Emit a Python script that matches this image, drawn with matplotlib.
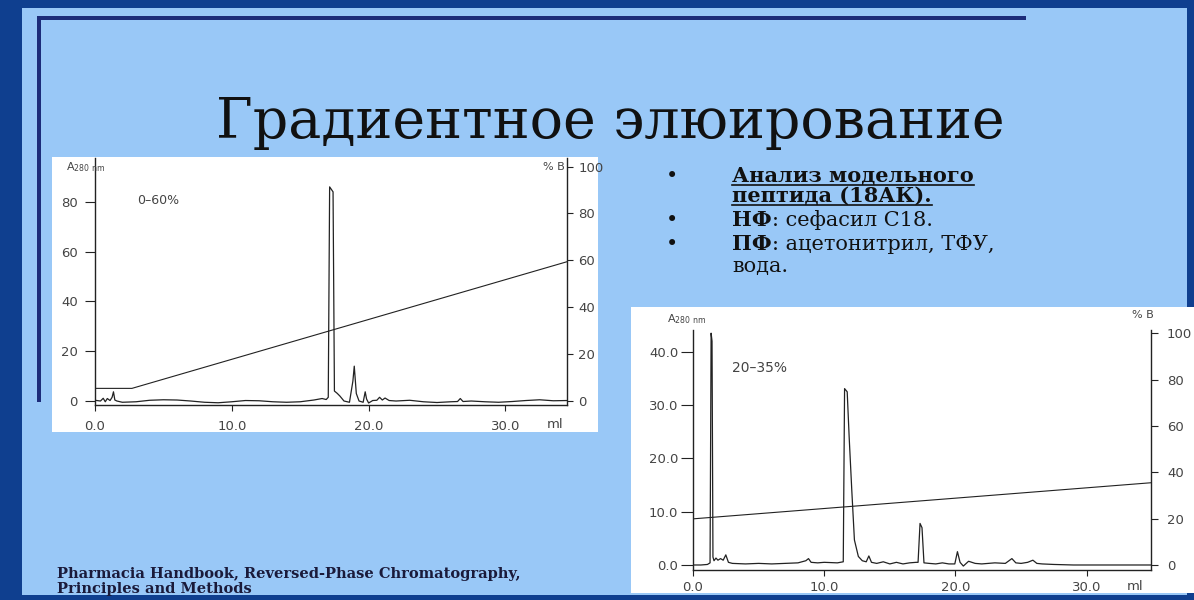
import matplotlib
matplotlib.use("Agg")
import matplotlib.pyplot as plt
from matplotlib.lines import Line2D
from matplotlib.patches import Rectangle

W, H = 1194, 600

# slide text
title = "Градиентное элюирование"
bullet_lines = ["Анализ модельного", "пептида (18АК)."]
nf_bold, nf_rest = "НФ", ": сефасил С18."
pf_bold, pf_rest = "ПФ", ": ацетонитрил, ТФУ,"
pf_cont = "вода."
source_lines = ["Pharmacia Handbook, Reversed-Phase Chromatography,",
                "Principles and Methods"]

# chromatogram 1 (0-60 %), volume in ml, absorbance A280
x1 = [0.0, 0.4, 0.6, 0.75, 0.9, 1.1, 1.25, 1.35, 1.45, 1.6, 2.0, 3.0, 4.0, 5.0,
      6.0, 7.0, 8.0, 9.0, 10.0, 11.0, 12.0, 13.0, 14.0, 15.0, 16.0, 16.6, 16.9,
      17.05, 17.15, 17.4, 17.5, 17.7, 17.9, 18.2, 18.6, 18.85, 18.95, 19.1, 19.3,
      19.6, 19.75, 19.85, 20.0, 20.3, 20.6, 20.8, 21.0, 21.2, 21.5, 22.0, 23.0,
      24.0, 25.0, 26.0, 26.5, 26.7, 26.9, 27.5, 28.5, 29.5, 30.5, 31.5, 32.5,
      33.5, 34.5]
a1 = [0.3, 0.0, 1.1, -0.3, 1.0, 0.2, 1.5, 3.7, 0.4, 0.0, -0.5, -0.3, 0.3, 0.5,
      0.4, 0.0, -0.5, -0.7, -0.3, 0.2, 0.1, -0.3, -0.5, -0.3, 0.4, 1.0, 0.6,
      1.5, 86.0, 84.0, 4.0, 3.1, 2.0, 0.0, -0.5, 8.0, 14.0, 3.0, 0.0,
      -0.5, 3.7, 0.8, -0.8, 0.2, 0.3, 1.5, 0.4, 1.2, 0.2, 0.0, 0.3,
      -0.3, -0.6, -0.3, -0.2, 1.0, -0.2, 0.0, -0.3, -0.5, -0.2, 0.2, 0.5,
      0.1, 0.2]
grad1_x = [0.0, 2.7, 34.5]
grad1_b = [5.3, 5.3, 59.4]

# chromatogram 2 (20-35 %)
x2 = [0.0, 0.6, 1.1, 1.3, 1.38, 1.45, 1.52, 1.6, 1.75, 1.9, 2.1, 2.3, 2.5, 2.7,
      3.0, 4.0, 5.0, 6.0, 7.0, 8.0, 8.6, 8.8, 9.0, 9.5, 10.0, 11.0, 11.45, 11.55,
      11.75, 11.9, 12.1, 12.3, 12.6, 12.9, 13.2, 13.4, 13.6, 14.0, 14.5, 15.0,
      15.5, 16.0, 16.5, 17.0, 17.15, 17.3, 17.45, 17.6, 18.0, 18.5, 19.0, 19.5,
      19.95, 20.15, 20.35, 20.6, 21.0, 21.5, 22.0, 23.0, 23.8, 24.3, 24.6, 25.0,
      25.5, 25.9, 26.2, 26.6, 27.5, 29.0, 31.0, 33.0, 34.9]
a2 = [0.0, 0.0, 0.1, 0.4, 43.5, 42.0, 1.5, 0.8, 1.3, 0.9, 1.2, 0.9, 1.9, 0.5,
      0.3, 0.2, 0.3, 0.2, 0.3, 0.4, 0.8, 1.2, 0.5, 0.4, 0.5, 0.4, 0.6, 33.1,
      32.5, 24.0, 14.0, 4.7, 1.6, 0.8, 0.6, 1.7, 0.5, 0.3, 0.6, 0.2,
      0.5, 0.2, 0.4, 0.5, 0.5, 7.8, 7.0, 0.4, 0.3, 0.2, 0.4, 0.2,
      0.2, 2.5, 0.5, -0.2, 0.7, 0.3, 0.2, 0.4, 0.3, 1.2, 0.4, 0.3,
      0.5, 0.9, 0.3, 0.2, 0.1, 0.0, 0.0, 0.0, 0.0]
grad2_x = [0.0, 34.9]
grad2_b = [19.9, 35.5]

x_ticks = [0, 10, 20, 30]
x_labels = ["0.0", "10.0", "20.0", "30.0"]
b_ticks = [0, 20, 40, 60, 80, 100]
a1_ticks = [0, 20, 40, 60, 80]
a2_ticks = [0, 10, 20, 30, 40]

NAVY = "#0f3f8f"
SKY = "#99c8f7"
LINE = "#1c2c7a"
INK = "#222222"
TICK = "#444444"


def fx(x):
    return x / W


def fy(y):
    return 1 - y / H


def px_box(x0, y0, x1_, y1_):
    return [x0 / W, 1 - y1_ / H, (x1_ - x0) / W, (y1_ - y0) / H]


def add_rect(fig, x0, y0, x1_, y1_, color, z=-1):
    fig.patches.append(Rectangle((fx(x0), fy(y1_)), (x1_ - x0) / W, (y1_ - y0) / H,
                                 transform=fig.transFigure, facecolor=color,
                                 edgecolor="none", zorder=z))


def chromatogram(fig, box, xs, ys, gx, gb, xlim, ylim_a, ylim_b, a_ticks, a_fmt,
                 left_tick, right_tick, bottom_tick):
    ax = fig.add_axes(px_box(*box))
    ax.patch.set_alpha(0)
    ax.plot(xs, ys, color=INK, lw=0.9)
    ax.set_xlim(*xlim)
    ax.set_ylim(*ylim_a)
    ax.spines["top"].set_visible(False)
    ax.spines["right"].set_visible(False)
    for s in ("left", "bottom"):
        ax.spines[s].set_color(INK)
        ax.spines[s].set_linewidth(1.0)
    ax.set_xticks(x_ticks, x_labels)
    ax.set_yticks(a_ticks, [a_fmt.format(v) for v in a_ticks])
    ax.tick_params(axis="y", direction="out", length=left_tick[0], pad=left_tick[1],
                   color=INK, labelcolor=TICK, labelsize=9.5)
    ax.tick_params(axis="x", direction="out", length=bottom_tick[0], pad=bottom_tick[1],
                   color=INK, labelcolor=TICK, labelsize=9.5)

    axb = ax.twinx()
    axb.plot(gx, gb, color=INK, lw=0.8)
    axb.set_ylim(*ylim_b)
    axb.spines["top"].set_visible(False)
    axb.spines["left"].set_visible(False)
    axb.spines["bottom"].set_visible(False)
    axb.spines["right"].set_color(INK)
    axb.spines["right"].set_linewidth(1.0)
    axb.set_yticks(b_ticks, [str(v) for v in b_ticks])
    axb.tick_params(axis="y", direction="out", length=right_tick[0], pad=right_tick[1],
                    color=INK, labelcolor=TICK, labelsize=9.5)
    return ax


fig = plt.figure(figsize=(W / 100, H / 100), dpi=100)
fig.patch.set_facecolor(NAVY)

# slide background and decoration lines
add_rect(fig, 22, 8, 1187, 595, SKY, z=-4)
add_rect(fig, 37, 16, 1026, 20, LINE, z=-3)
add_rect(fig, 37, 16, 41, 402, LINE, z=-3)

# white panels of the two scanned chromatograms
add_rect(fig, 52, 157, 598, 432, "white", z=-2)
add_rect(fig, 631, 307, 1194, 593, "white", z=-2)

fig.text(fx(610), fy(138), title, ha="center", va="baseline",
         family="DejaVu Serif", fontsize=40, color="#111111")

# chart 1
ax1 = chromatogram(fig, (95, 158, 567, 405), x1, a1, grad1_x, grad1_b,
                   (0, 34.5), (-1.6, 97.6), (-1.8, 103.7), a1_ticks, "{:d}",
                   (7, 5.4), (4.5, 3.6), (4.5, 6.5))
ax1.text(3.1, 80.7, "0–60%", fontsize=9, color=TICK, va="center")
fig.text(fx(66), fy(170), r"A$_{280\ \mathrm{nm}}$", fontsize=8, color=TICK)
fig.text(fx(543), fy(170), "% B", fontsize=8, color=TICK)
fig.text(fx(555), fy(425), "ml", fontsize=9.5, color=TICK, ha="center", va="center")

# chart 2
ax2 = chromatogram(fig, (693, 330, 1151, 570), x2, a2, grad2_x, grad2_b,
                   (0, 34.9), (-0.94, 44.1), (-2.2, 101.5), a2_ticks, "{:.1f}",
                   (8.5, 2.0), (5, 6.5), (4.5, 3.6))
ax2.text(3.0, 37.0, "20–35%", fontsize=10, color=TICK, va="center")
fig.text(fx(667), fy(322), r"A$_{280\ \mathrm{nm}}$", fontsize=8, color=TICK)
fig.text(fx(1132), fy(318), "% B", fontsize=8, color=TICK)
fig.text(fx(1135), fy(586), "ml", fontsize=9.5, color=TICK, ha="center", va="center")

# bullet text
renderer = fig.canvas.get_renderer()
serif = dict(family="DejaVu Serif", fontsize=15, color="#111111", va="baseline")
text_x = 732
for y in (182, 226, 250):
    fig.text(fx(666), fy(y), "•", **serif)

for y, line in zip((182, 202), bullet_lines):
    t = fig.text(fx(text_x), fy(y), line, weight="bold", **serif)
    bb = t.get_window_extent(renderer)
    uy = bb.y0 + 1
    fig.add_artist(Line2D([bb.x0 / W, bb.x1 / W], [uy / H, uy / H],
                          transform=fig.transFigure, color="#111111", lw=1.2))

for y, bold, rest in ((226, nf_bold, nf_rest), (250, pf_bold, pf_rest)):
    t = fig.text(fx(text_x), fy(y), bold, weight="bold", **serif)
    bb = t.get_window_extent(renderer)
    fig.text(bb.x1 / W, fy(y), rest, **serif)
fig.text(fx(text_x), fy(272), pf_cont, **serif)

# source reference
for y, line in zip((578, 593), source_lines):
    fig.text(fx(57), fy(y), line, family="DejaVu Serif", weight="bold",
             fontsize=10.5, color="#1a1a3a", va="baseline")

fig.savefig("out.png", dpi=100, facecolor=fig.get_facecolor())
